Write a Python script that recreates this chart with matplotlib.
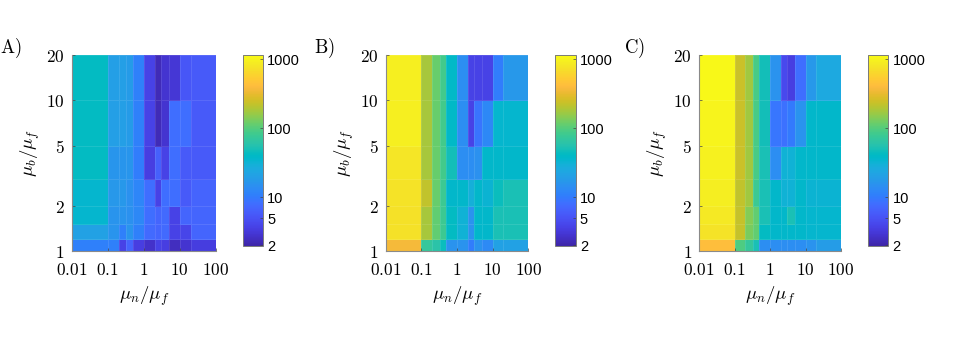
import numpy as np
import matplotlib
matplotlib.use('Agg')
import matplotlib.pyplot as plt
from matplotlib.colors import LinearSegmentedColormap, LogNorm
from matplotlib.ticker import FixedLocator, FixedFormatter, NullLocator

# ---------------- data ----------------
x_edges = [0.01, 0.1, 0.2, 0.33, 0.5, 1, 2, 3, 5, 10, 20, 100]
y_edges = [1, 1.2, 1.5, 2, 3, 5, 10, 20]
x_ticks = [0.01, 0.1, 1, 10, 100]
x_tick_labels = ['0.01', '0.1', '1', '10', '100']
y_ticks = [1, 2, 5, 10, 20]
y_tick_labels = ['1', '2', '5', '10', '20']
cbar_ticks = [2, 5, 10, 100, 1000]
cbar_tick_labels = ['2', '5', '10', '100', '1000']
panel_labels = ['A)', 'B)', 'C)']
c_min, c_max = 2, 1150

# rows from bottom (mu_b/mu_f 1-1.2) to top (10-20)
values_A = [
    [11, 11, 3.8, 6.8, 3.5, 2.7, 3.8, 3.5, 2.5, 2.9, 3.4],
    [21, 16, 11, 16, 11, 7.6, 7, 7.6, 3.8, 4, 7],
    [35, 16, 16, 15, 12.6, 8.1, 7, 7.6, 3.8, 7, 7],
    [35, 17, 17, 15, 12, 8.1, 3.8, 8.1, 8.1, 5.8, 6.8],
    [42, 16.3, 16.3, 16.3, 10.5, 3.5, 6.3, 3.8, 8.1, 5.8, 5.8],
    [42, 20, 20, 18.5, 11, 3.8, 2.3, 2.9, 8.1, 8.1, 5.8],
    [42, 20, 20, 18.5, 11, 3.8, 2.3, 2.9, 3.0, 5.3, 5.8],
]
values_B = [
    [367, 72, 60, 45, 15.5, 15.5, 10.5, 15.5, 13, 21, 21],
    [740, 180, 110, 80, 42, 31, 15.5, 37, 37, 51, 51],
    [740, 180, 110, 80, 42, 31, 15.5, 37, 37, 51, 51],
    [760, 220, 115, 80, 37, 37, 29, 37, 33, 45, 51],
    [800, 180, 115, 85, 48, 14, 14, 15, 37, 37, 37],
    [920, 180, 115, 85, 39, 14, 3.8, 9, 12.6, 35, 35],
    [920, 180, 115, 85, 39, 14, 3.8, 3.8, 3.8, 10.5, 17],
]
values_C = [
    [416, 95, 72, 51, 14, 14, 14, 14, 14, 15.5, 19],
    [760, 225, 130, 110, 42, 37, 37, 37, 37, 35, 35],
    [850, 225, 140, 110, 51, 37, 37, 51, 37, 35, 35],
    [900, 220, 171, 80, 51, 37, 31, 31, 37, 33, 33],
    [950, 235, 171, 90, 51, 14, 31, 31, 37, 37, 37],
    [1000, 235, 171, 90, 48, 9.2, 8.6, 10, 15.5, 37, 37],
    [1080, 235, 171, 90, 48, 15.5, 4.3, 3.5, 8.1, 17, 25],
]
panels = [values_A, values_B, values_C]

# ---------------- colormap (parula) ----------------
parula_rgb = [
    [0.2422, 0.1504, 0.6603], [0.2504, 0.1650, 0.7076], [0.2578, 0.1818, 0.7511],
    [0.2647, 0.1978, 0.7952], [0.2706, 0.2147, 0.8364], [0.2751, 0.2342, 0.8710],
    [0.2783, 0.2559, 0.8991], [0.2803, 0.2782, 0.9221], [0.2813, 0.3006, 0.9414],
    [0.2810, 0.3228, 0.9579], [0.2795, 0.3447, 0.9717], [0.2760, 0.3667, 0.9829],
    [0.2699, 0.3892, 0.9906], [0.2602, 0.4123, 0.9952], [0.2440, 0.4358, 0.9988],
    [0.2206, 0.4603, 0.9973], [0.1963, 0.4847, 0.9892], [0.1834, 0.5074, 0.9798],
    [0.1786, 0.5289, 0.9682], [0.1764, 0.5499, 0.9520], [0.1687, 0.5703, 0.9359],
    [0.1540, 0.5902, 0.9218], [0.1460, 0.6091, 0.9079], [0.1380, 0.6276, 0.8973],
    [0.1248, 0.6459, 0.8883], [0.1113, 0.6635, 0.8763], [0.0952, 0.6798, 0.8598],
    [0.0689, 0.6948, 0.8394], [0.0297, 0.7082, 0.8163], [0.0036, 0.7203, 0.7917],
    [0.0067, 0.7312, 0.7660], [0.0433, 0.7411, 0.7394], [0.0964, 0.7500, 0.7120],
    [0.1408, 0.7584, 0.6842], [0.1717, 0.7670, 0.6554], [0.1938, 0.7758, 0.6251],
    [0.2161, 0.7843, 0.5923], [0.2470, 0.7918, 0.5567], [0.2906, 0.7973, 0.5188],
    [0.3406, 0.8008, 0.4789], [0.3909, 0.8029, 0.4354], [0.4456, 0.8024, 0.3909],
    [0.5044, 0.7993, 0.3480], [0.5616, 0.7942, 0.3045], [0.6174, 0.7876, 0.2612],
    [0.6720, 0.7793, 0.2227], [0.7242, 0.7698, 0.1910], [0.7738, 0.7598, 0.1646],
    [0.8203, 0.7498, 0.1535], [0.8634, 0.7406, 0.1596], [0.9035, 0.7330, 0.1774],
    [0.9393, 0.7288, 0.2100], [0.9728, 0.7298, 0.2394], [0.9956, 0.7434, 0.2371],
    [0.9970, 0.7659, 0.2199], [0.9952, 0.7893, 0.2028], [0.9892, 0.8136, 0.1885],
    [0.9786, 0.8386, 0.1766], [0.9676, 0.8639, 0.1643], [0.9610, 0.8890, 0.1537],
    [0.9597, 0.9135, 0.1423], [0.9628, 0.9373, 0.1265], [0.9691, 0.9606, 0.1064],
    [0.9769, 0.9839, 0.0805],
]
parula = LinearSegmentedColormap.from_list('parula', parula_rgb, N=256)
norm = LogNorm(vmin=c_min, vmax=c_max)

plt.rcParams['mathtext.fontset'] = 'cm'

W, H = 969, 342
fig = plt.figure(figsize=(W / 100, H / 100), dpi=100)
fig.patch.set_facecolor('white')

ax_px = [(71.7, 215.7), (385.7, 528.3), (699.0, 841.0)]
label_px = [0, 314, 624]
ax_top, ax_bot = 55, 251
cb_top, cb_bot = 55, 245.5
tick_fs = 12.5

for i, vals in enumerate(panels):
    x0, x1 = ax_px[i]
    ax = fig.add_axes([x0 / W, (H - ax_bot) / H, (x1 - x0) / W, (ax_bot - ax_top) / H])
    mesh = ax.pcolormesh(x_edges, y_edges, np.array(vals, dtype=float), cmap=parula, norm=norm,
                         edgecolors=(1, 1, 1, 0.10), linewidth=0.4)
    ax.set_xscale('log')
    ax.set_yscale('log')
    ax.set_xlim(0.01, 100)
    ax.set_ylim(1, 20)
    ax.xaxis.set_major_locator(FixedLocator(x_ticks))
    ax.xaxis.set_major_formatter(FixedFormatter(['$' + s + '$' for s in x_tick_labels]))
    ax.yaxis.set_major_locator(FixedLocator(y_ticks))
    ax.yaxis.set_major_formatter(FixedFormatter(['$' + s + '$' for s in y_tick_labels]))
    ax.xaxis.set_minor_locator(NullLocator())
    ax.yaxis.set_minor_locator(NullLocator())
    ax.tick_params(axis='both', which='major', labelsize=tick_fs, direction='in',
                   length=2.5, width=0.5, color='#444444')
    ax.tick_params(axis='x', pad=7.5)
    ax.tick_params(axis='y', pad=5)
    for side in ['top', 'right']:
        ax.spines[side].set_visible(False)
    for side in ['left', 'bottom']:
        ax.spines[side].set_color('#8a8a8a')
        ax.spines[side].set_linewidth(0.8)
    ax.set_xlabel(r'$\mu_n/\mu_f$', fontsize=13.5, labelpad=4)
    ax.set_ylabel(r'$\mu_b/\mu_f$', fontsize=13.5, labelpad=3)

    fig.text(label_px[i] / W, (H - 48) / H, r'$\mathrm{' + panel_labels[i] + '}$',
             fontsize=13.5, ha='left', va='center')

    cax = fig.add_axes([(x1 + 27) / W, (H - cb_bot) / H, 20.3 / W, (cb_bot - cb_top) / H])
    cb = fig.colorbar(mesh, cax=cax)
    cb.set_ticks(cbar_ticks)
    cb.set_ticklabels(cbar_tick_labels)
    cax.yaxis.set_minor_locator(NullLocator())
    cax.tick_params(axis='y', which='major', direction='in', length=2.5, width=0.5,
                    color='#444444', labelsize=10.5, pad=3)
    for lab in cax.get_yticklabels():
        lab.set_fontfamily('Liberation Sans')
    cb.outline.set_edgecolor('#7a7a7a')
    cb.outline.set_linewidth(0.7)

fig.savefig('out.png', dpi=100, facecolor='white')
